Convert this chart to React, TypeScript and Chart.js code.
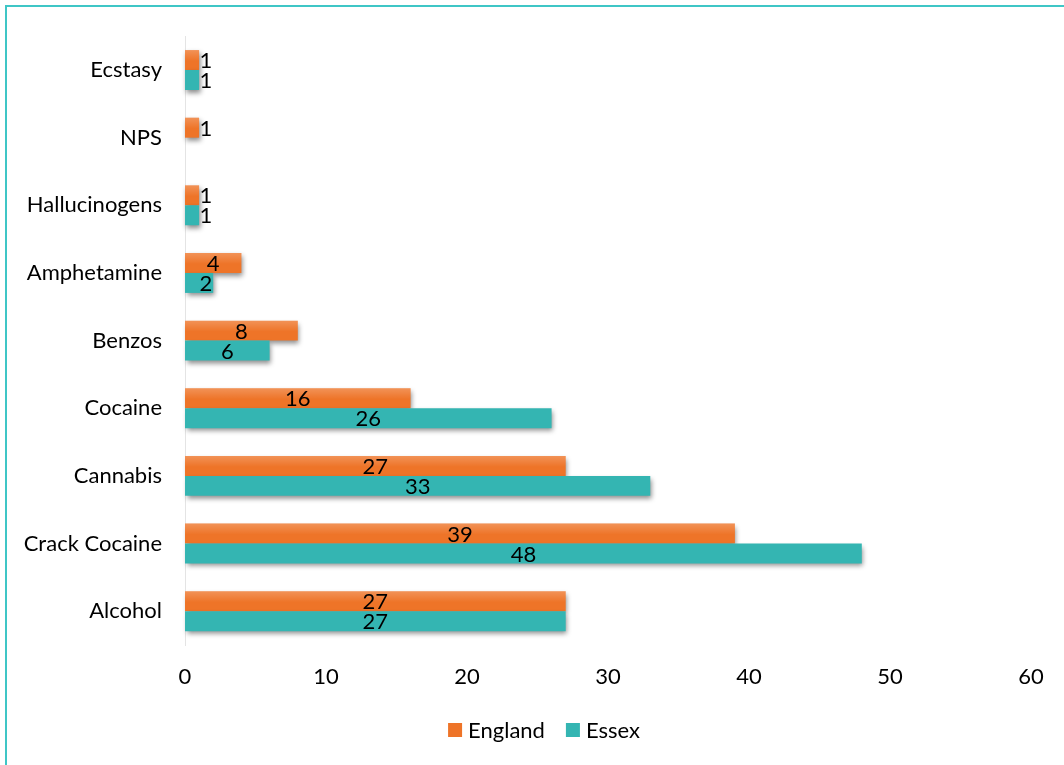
import React, { useEffect, useRef } from "react";
import { Chart, registerables } from "chart.js";

Chart.register(...registerables);

// Treatment population by substance
const categories = [
  "Ecstasy",
  "NPS",
  "Hallucinogens",
  "Amphetamine",
  "Benzos",
  "Cocaine",
  "Cannabis",
  "Crack Cocaine",
  "Alcohol",
];
const englandValues: (number | null)[] = [1, 1, 1, 4, 8, 16, 27, 39, 27];
const essexValues: (number | null)[] = [1, null, 1, 2, 6, 26, 33, 48, 27];
const xTicks = [0, 10, 20, 30, 40, 50, 60];

const seriesNames = ["England", "Essex"];
const ORANGE = "#ee7428";
const TEAL = "#34b5b2";
const FONT = "Lato, 'Noto Sans', sans-serif";
const FONT_SIZE = 22;

// Draws bars England first, Essex second, each with a soft drop shadow,
// and a light sheen on the upper part of the orange bars.
const barRenderer = {
  id: "barRenderer",
  beforeDatasetsDraw(chart: any) {
    const ctx = chart.ctx;
    [0, 1].forEach((di) => {
      const meta = chart.getDatasetMeta(di);
      const data = chart.data.datasets[di].data;
      meta.data.forEach((bar: any, j: number) => {
        if (data[j] == null) return;
        ctx.save();
        ctx.shadowColor = "rgba(0,0,0,0.45)";
        ctx.shadowBlur = 5;
        ctx.shadowOffsetX = 1.5;
        ctx.shadowOffsetY = 3;
        bar.draw(ctx);
        ctx.restore();
        if (di === 0) {
          const { x, y, base, height } = bar.getProps(["x", "y", "base", "height"], true);
          const top = y - height / 2;
          const g = ctx.createLinearGradient(0, top, 0, top + height);
          g.addColorStop(0, "rgba(255,255,255,0.22)");
          g.addColorStop(0.55, "rgba(255,255,255,0.0)");
          ctx.save();
          ctx.fillStyle = g;
          ctx.fillRect(base, top, x - base, height);
          ctx.restore();
        }
      });
    });
    return false;
  },
};

// Value labels centred on each bar, kept clear of the axis for short bars.
const valueLabels = {
  id: "valueLabels",
  afterDraw(chart: any) {
    const ctx = chart.ctx;
    ctx.save();
    ctx.font = `${FONT_SIZE}px ${FONT}`;
    ctx.fillStyle = "#000";
    ctx.textAlign = "center";
    ctx.textBaseline = "middle";
    chart.data.datasets.forEach((ds: any, di: number) => {
      const meta = chart.getDatasetMeta(di);
      meta.data.forEach((bar: any, j: number) => {
        const v = ds.data[j];
        if (v == null) return;
        const { x, y, base } = bar.getProps(["x", "y", "base"], true);
        const cx = Math.max((x + base) / 2, base + 21);
        ctx.fillText(String(v), cx, y + 1);
      });
    });
    ctx.restore();
  },
};

// Bottom legend with square swatches.
const bottomLegend = {
  id: "bottomLegend",
  afterDraw(chart: any) {
    const ctx = chart.ctx;
    ctx.save();
    ctx.font = `${FONT_SIZE}px ${FONT}`;
    ctx.textBaseline = "middle";
    ctx.textAlign = "left";
    const box = 14;
    const gap = 6;
    const spacing = 21;
    const items = chart.data.datasets.map((ds: any) => ({
      label: ds.label,
      color: ds.backgroundColor,
      w: box + gap + ctx.measureText(ds.label).width,
    }));
    const total = items.reduce((s: number, it: any) => s + it.w, 0) + spacing * (items.length - 1);
    let x = chart.width / 2 + 12 - total / 2;
    const cy = chart.height - 35;
    items.forEach((it: any) => {
      ctx.fillStyle = it.color;
      ctx.fillRect(x, cy - box / 2, box, box);
      ctx.fillStyle = "#000";
      ctx.fillText(it.label, x + box + gap, cy + 1);
      x += it.w + spacing;
    });
    ctx.restore();
  },
};

export default function App() {
  const canvasRef = useRef<HTMLCanvasElement | null>(null);

  useEffect(() => {
    const canvas = canvasRef.current;
    if (!canvas) return;
    const chart = new Chart(canvas, {
      type: "bar",
      data: {
        labels: categories,
        datasets: [
          {
            label: seriesNames[0],
            data: englandValues,
            backgroundColor: ORANGE,
            borderWidth: 0,
            categoryPercentage: 0.59,
            barPercentage: 1,
          },
          {
            label: seriesNames[1],
            data: essexValues,
            backgroundColor: TEAL,
            borderWidth: 0,
            categoryPercentage: 0.59,
            barPercentage: 1,
          },
        ],
      },
      options: {
        indexAxis: "y",
        responsive: false,
        animation: false,
        layout: { padding: { top: 36, right: 33, bottom: 0, left: 0 } },
        plugins: {
          legend: { display: false },
          tooltip: { enabled: false },
        },
        scales: {
          x: {
            min: xTicks[0],
            max: xTicks[xTicks.length - 1],
            afterBuildTicks: (scale: any) => {
              scale.ticks = xTicks.map((v) => ({ value: v }));
            },
            afterFit: (scale: any) => {
              scale.height = 120;
            },
            grid: { display: false, drawTicks: false },
            border: { display: false },
            ticks: {
              padding: 19,
              color: "#000",
              font: { family: FONT, size: FONT_SIZE },
            },
          },
          y: {
            afterFit: (scale: any) => {
              scale.width = 185;
            },
            grid: { display: false, drawTicks: false },
            border: { display: true, color: "#e4e4e4", width: 1 },
            ticks: {
              padding: 23,
              color: "#000",
              font: { family: FONT, size: FONT_SIZE },
            },
          },
        },
      },
      plugins: [barRenderer, valueLabels, bottomLegend],
    });
    return () => chart.destroy();
  }, []);

  return (
    <div
      style={{
        position: "fixed",
        left: 0,
        top: 0,
        width: 1064,
        height: 765,
        overflow: "hidden",
        background: "#fff",
      }}
    >
      <canvas ref={canvasRef} width={1064} height={765} style={{ display: "block" }} />
      <div
        style={{
          position: "absolute",
          left: 5,
          top: 5,
          width: 1100,
          height: 800,
          border: "2px solid #3fc6c6",
          pointerEvents: "none",
        }}
      />
    </div>
  );
}
